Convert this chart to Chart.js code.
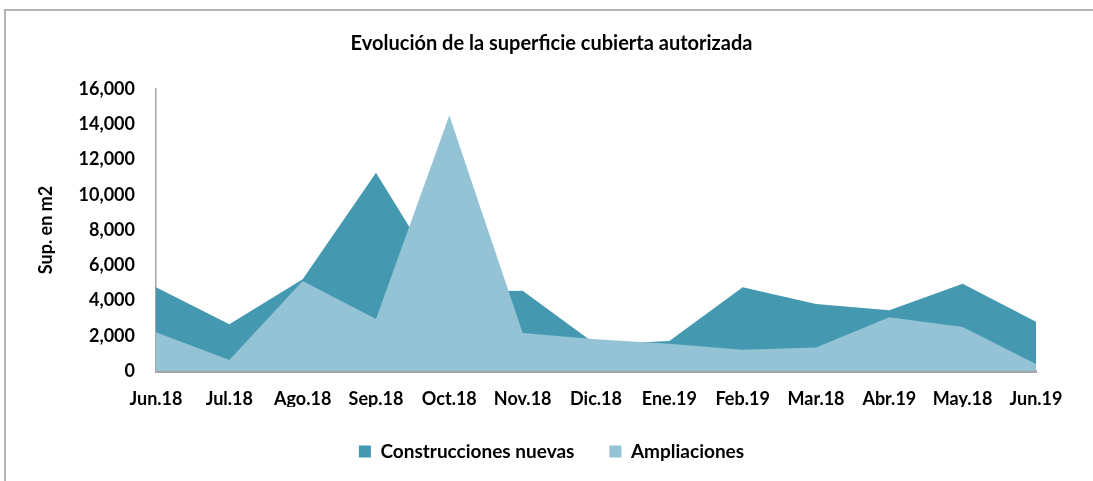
<!DOCTYPE html>
<html>
<head>
<meta charset="utf-8">
<script src="https://cdn.jsdelivr.net/npm/chart.js@4.4.1/dist/chart.umd.min.js"></script>
<style>
    html, body { margin: 0; padding: 0; background: #fff; }
    body { width: 1093px; height: 481px; position: relative; overflow: hidden; }
    .frame {
        position: absolute; left: 4px; top: 9px; right: 0; bottom: 0;
        border-top: 2px solid #b4b4b4; border-left: 2px solid #b4b4b4;
    }
    #superficieChart { position: absolute; left: 0; top: 0; }
</style>
</head>
<body>
<div class="frame"></div>
<canvas id="superficieChart" width="1093" height="481"></canvas>
<script>
const months = ["Jun.18", "Jul.18", "Ago.18", "Sep.18", "Oct.18", "Nov.18", "Dic.18",
    "Ene.19", "Feb.19", "Mar.18", "Abr.19", "May.18", "Jun.19"];
const construccionesNuevas = [4750, 2650, 5200, 11250, 4500, 4550, 1500, 1700, 4750, 3800, 3450, 4950, 2800];
const ampliaciones = [2200, 620, 5100, 2950, 14500, 2150, 1800, 1550, 1200, 1330, 3050, 2500, 400];
const yMax = 16000;
const yStep = 2000;

const FONT = "Lato";
const darkTeal = "#4499b0";
const lightBlue = "#93c3d4";

window.addEventListener("load", () => {
    const ctx = document.getElementById("superficieChart");
    new Chart(ctx, {
        type: "line",
        data: {
            labels: months,
            datasets: [
                {
                    label: "Construcciones nuevas",
                    data: construccionesNuevas,
                    backgroundColor: darkTeal,
                    borderColor: darkTeal,
                    borderWidth: 0,
                    fill: "origin",
                    pointRadius: 0,
                    tension: 0,
                    order: 1
                },
                {
                    label: "Ampliaciones",
                    data: ampliaciones,
                    backgroundColor: lightBlue,
                    borderColor: lightBlue,
                    borderWidth: 0,
                    fill: "origin",
                    pointRadius: 0,
                    tension: 0,
                    order: 0
                }
            ]
        },
        options: {
            responsive: false,
            animation: false,
            layout: { padding: { left: 10, right: 0, top: 0, bottom: 10 } },
            plugins: {
                title: {
                    display: true,
                    text: "Evolución de la superficie cubierta autorizada",
                    color: "#000",
                    font: { family: FONT, size: 20, weight: "bold" },
                    padding: { top: 32, bottom: 33 }
                },
                legend: {
                    position: "bottom",
                    labels: {
                        color: "#000",
                        font: { family: FONT, size: 19, weight: "bold" },
                        boxWidth: 12,
                        boxHeight: 12,
                        padding: 35,
                        sort: (a, b) => a.datasetIndex - b.datasetIndex
                    }
                },
                tooltip: { enabled: false }
            },
            scales: {
                x: {
                    offset: false,
                    grid: { display: false, drawTicks: false },
                    border: { display: true, color: "#a6a6a6", width: 3 },
                    ticks: {
                        color: "#000",
                        font: { family: FONT, size: 18, weight: "bold" },
                        padding: 17,
                        maxRotation: 0,
                        autoSkip: false
                    },
                    afterFit: scale => { scale.height = 36; }
                },
                y: {
                    min: 0,
                    max: yMax,
                    grid: { display: false, drawTicks: false },
                    border: { display: true, color: "#a6a6a6", width: 1.5 },
                    ticks: {
                        stepSize: yStep,
                        color: "#000",
                        font: { family: FONT, size: 18, weight: "bold" },
                        padding: 21,
                        callback: value => Number(value).toLocaleString("en-US")
                    },
                    title: {
                        display: true,
                        text: "Sup. en m2",
                        color: "#000",
                        font: { family: FONT, size: 18, weight: "bold" },
                        padding: { top: 25, bottom: 0 }
                    },
                    afterFit: scale => { scale.width = 146; }
                },
                // empty right-hand margin so the plot ends under "Jun.19"
                yRight: {
                    position: "right",
                    display: true,
                    grid: { display: false, drawTicks: false },
                    border: { display: false },
                    ticks: { display: false },
                    afterFit: scale => { scale.width = 57; }
                }
            }
        }
    });
});
</script>
</body>
</html>
